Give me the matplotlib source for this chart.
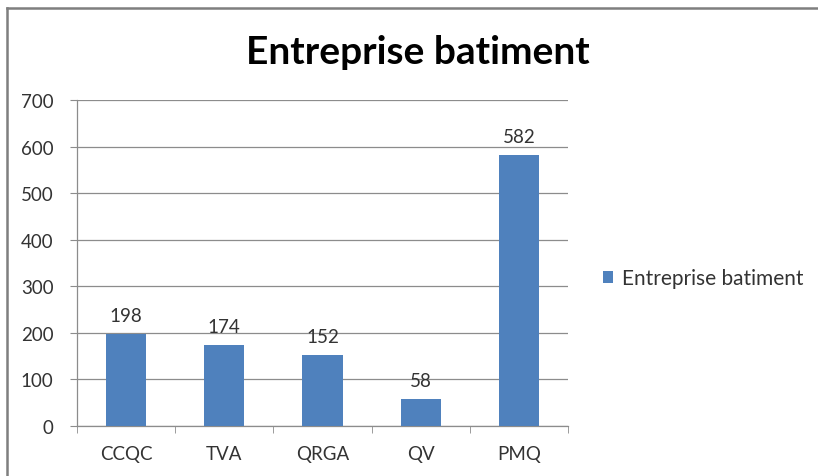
import numpy as np
import matplotlib.pyplot as plt
from matplotlib.lines import Line2D

# data
categories = ['CCQC', 'TVA', 'QRGA', 'QV', 'PMQ']
values = [198, 174, 152, 58, 582]
series_name = 'Entreprise batiment'
yticks = [0, 100, 200, 300, 400, 500, 600, 700]

bar_color = '#4F81BD'
grid_color = '#8C8C8C'
text_color = '#333333'

plt.rcParams['font.family'] = ['Lato', 'DejaVu Sans']

fig = plt.figure(figsize=(8.18, 4.77), dpi=100)
ax = fig.add_axes([77 / 818, 1 - 427 / 477, (568 - 77) / 818, (427 - 101) / 477])

# chart frame: only left and top edges show in the crop
fx, fy = 7 / 818, 1 - 9 / 477
fig.lines.append(Line2D([fx, fx], [0, fy], transform=fig.transFigure, color='#7F7F7F', linewidth=1.8))
fig.lines.append(Line2D([fx, 1], [fy, fy], transform=fig.transFigure, color='#7F7F7F', linewidth=1.8))

x = np.arange(len(categories))
ax.bar(x, values, width=0.41, color=bar_color, label=series_name, zorder=3)

for xi, v in zip(x, values):
    ax.text(xi, v + 22, str(v), ha='center', va='bottom', fontsize=13.5, color=text_color)

ax.set_xlim(-0.5, len(categories) - 0.5)
ax.set_ylim(0, 700)
ax.set_yticks(yticks)
ax.set_yticklabels([str(t) for t in yticks], fontsize=13.5, color=text_color)
ax.yaxis.grid(True, color=grid_color, linewidth=0.9, zorder=0)

ax.set_xticks(x)
ax.set_xticklabels(categories, fontsize=13.5, color=text_color)
ax.tick_params(axis='x', length=0, pad=14)
ax.set_xticks(np.arange(-0.5, len(categories) + 0.5, 1), minor=True)
ax.tick_params(axis='x', which='minor', length=5, color=grid_color, direction='out')
ax.tick_params(axis='y', length=5, color=grid_color, pad=12)

for side in ['top', 'right']:
    ax.spines[side].set_visible(False)
for side in ['left', 'bottom']:
    ax.spines[side].set_color(grid_color)
    ax.spines[side].set_linewidth(0.9)

fig.text(418 / 818, 1 - 53 / 477, 'Entreprise batiment', ha='center', va='center',
         fontsize=28, fontweight='bold', color='black')

ax.legend(loc='center left', bbox_to_anchor=(584 / 818, 1 - 279 / 477),
          bbox_transform=fig.transFigure, frameon=False, fontsize=15,
          handlelength=0.5, handleheight=0.5, handletextpad=0.4,
          labelcolor=text_color)

fig.savefig('out.png', dpi=100, facecolor='white')
